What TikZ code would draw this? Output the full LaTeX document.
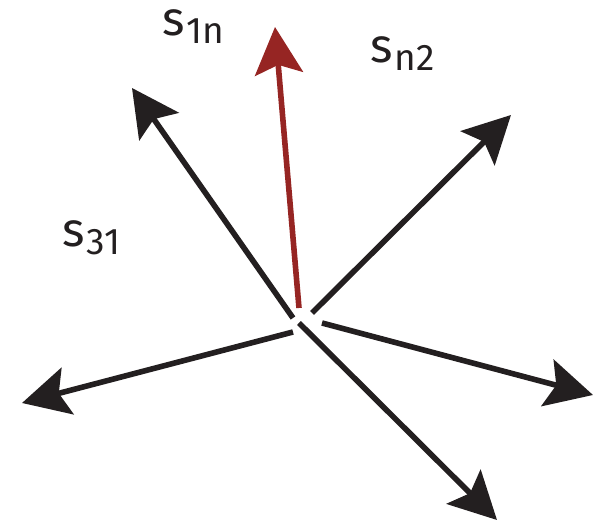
\documentclass[tikz,border=0pt]{standalone}
\usepackage{fontspec}
\setmainfont{Fira Sans}
\usetikzlibrary{arrows.meta}
\definecolor{vecInk}{HTML}{231F20}
\definecolor{vecRed}{HTML}{962523}
\tikzset{
  vecArrow/.style={
    -{Stealth[length=23.5pt, width=24pt, inset=4.5pt]},
    line width=2.8pt,
    draw=#1
  },
  vecLabel/.style={
    anchor=base west,
    inner sep=0pt,
    text=vecInk
  }
}
\newcommand\vecName[1]{{\fontsize{24}{24}\selectfont s}\kern1pt\raisebox{-4pt}{\fontsize{18.5}{18.5}\selectfont #1}}

\begin{document}
\begin{tikzpicture}[x=0.5pt, y=-0.5pt]
  \useasboundingbox (0,0) rectangle (601,522);

  % start points near the centre, and the tips
  \coordinate (redStart) at (299,308);
  \coordinate (redTip) at (275,27);
  \coordinate (ulStart) at (293,318);
  \coordinate (ulTip) at (132,88);
  \coordinate (urStart) at (312,313);
  \coordinate (urTip) at (511,115);
  \coordinate (rtStart) at (322,323);
  \coordinate (rtTip) at (593,395);
  \coordinate (lrStart) at (299,323);
  \coordinate (lrTip) at (497,520);
  \coordinate (llStart) at (293,332);
  \coordinate (llTip) at (22,403);

  \foreach \a in {ul,ur,rt,lr,ll}
    \draw[vecArrow=vecInk] (\a Start) -- (\a Tip);
  \draw[vecArrow=vecRed] (redStart) -- (redTip);

  \node[vecLabel] (s1n) at (162,36) {\vecName{1n}};
  \node[vecLabel] (sn2) at (370,63) {\vecName{n2}};
  \node[vecLabel] (s31) at (62,247) {\vecName{31}};
\end{tikzpicture}
\end{document}
